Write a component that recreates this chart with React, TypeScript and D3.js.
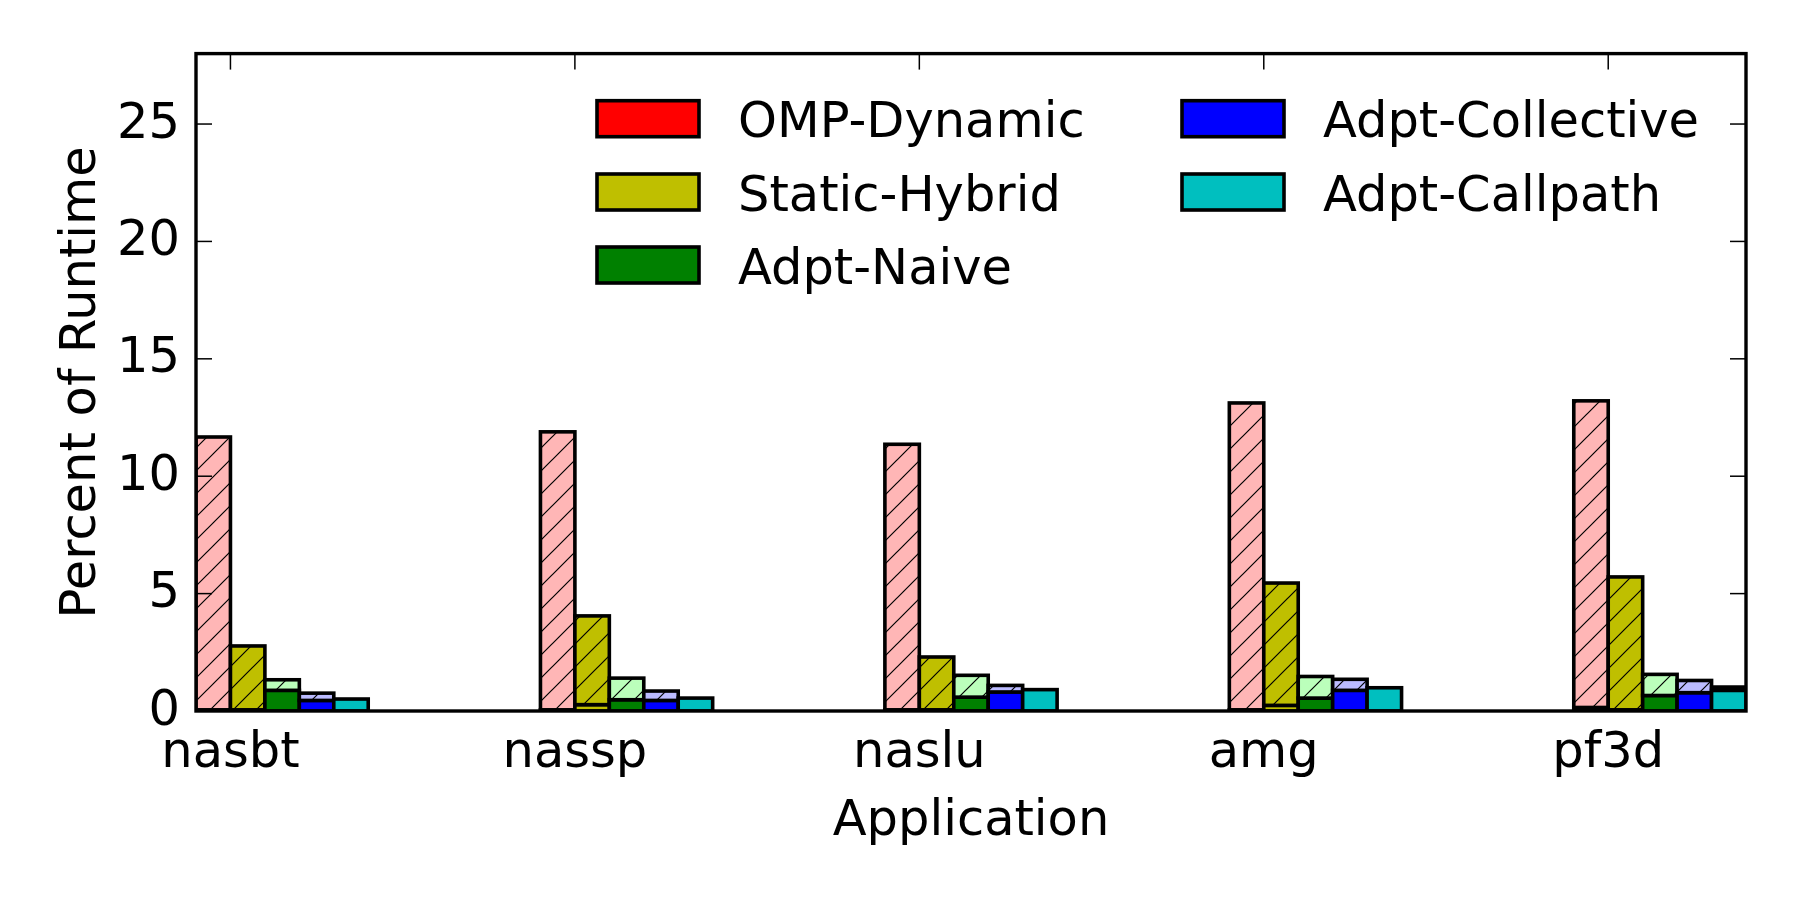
import React from 'react';
import * as d3 from 'd3';

const apps = ['nasbt', 'nassp', 'naslu', 'amg', 'pf3d'];
const methods = ['OMP-Dynamic', 'Static-Hybrid', 'Adpt-Naive', 'Adpt-Collective', 'Adpt-Callpath'];
const solidColors = ['#ff0000', '#bfbf00', '#008000', '#0000ff', '#00bfbf'];
const hatchColors = ['#ffb6b6', '#bfbf00', '#bbffbb', '#bbbbff', '#bbffff'];

// solid (lower) part and total height of each bar, per method, per app
const ompBase = [0.05, 0.05, 0.05, 0.05, 0.15];
const ompTotal = [11.67, 11.89, 11.36, 13.12, 13.21];
const staticBase = [0.05, 0.27, 0.05, 0.24, 0.05];
const staticTotal = [2.77, 4.05, 2.30, 5.45, 5.71];
const naiveBase = [0.88, 0.48, 0.59, 0.55, 0.66];
const naiveTotal = [1.33, 1.40, 1.52, 1.47, 1.56];
const collBase = [0.45, 0.45, 0.81, 0.88, 0.78];
const collTotal = [0.76, 0.85, 1.09, 1.35, 1.30];
const callBase = [0.51, 0.55, 0.91, 0.99, 0.88];
const callTotal = [0.51, 0.55, 0.91, 0.99, 1.02];

const bases = [ompBase, staticBase, naiveBase, collBase, callBase];
const totals = [ompTotal, staticTotal, naiveTotal, collTotal, callTotal];

const yTicks = [0, 5, 10, 15, 20, 25];
const barWidth = 0.1;

const W = 1800;
const H = 900;
const left = 196;
const right = 1746;
const top = 53.6;
const bottom = 711;
const FONT = '"DejaVu Sans", sans-serif';
const FS = 49.5;
const EDGE = 3.6;

export default function App() {
  const x = d3.scaleLinear().domain([0, 4.5]).range([left, right]);
  const y = d3.scaleLinear().domain([0, 28]).range([bottom, top]);
  const bw = x(barWidth) - x(0);

  const bars: JSX.Element[] = [];
  methods.forEach((m, j) => {
    apps.forEach((a, i) => {
      const x0 = x(i + j * barWidth);
      const b = bases[j][i];
      const t = totals[j][i];
      bars.push(
        <rect key={`s-${j}-${i}`} x={x0} y={y(b)} width={bw} height={y(0) - y(b)}
          fill={solidColors[j]} stroke="#000" strokeWidth={EDGE} />
      );
      if (t > b) {
        bars.push(
          <g key={`h-${j}-${i}`}>
            <rect x={x0} y={y(t)} width={bw} height={y(b) - y(t)} fill={hatchColors[j]} />
            <rect x={x0} y={y(t)} width={bw} height={y(b) - y(t)} fill="url(#hatch)" />
            <rect x={x0} y={y(t)} width={bw} height={y(b) - y(t)} fill="none" stroke="#000" strokeWidth={EDGE} />
          </g>
        );
      }
    });
  });

  const legendColX = [597, 1182];
  const legendTextX = [738, 1323];
  const legendRowY = [100.7, 174, 247];

  return (
    <svg width={W} height={H} style={{ position: 'absolute', left: 0, top: 0, background: '#fff' }}
      fontFamily={FONT}>
      <defs>
        <pattern id="hatch" patternUnits="userSpaceOnUse" width={23} height={23}>
          <path d="M0,23 L23,0 M-6,6 L6,-6 M17,29 L29,17" stroke="#000" strokeWidth={1.2} />
        </pattern>
        <clipPath id="axclip">
          <rect x={left} y={top} width={right - left} height={bottom - top} />
        </clipPath>
      </defs>
      <rect x={0} y={0} width={W} height={H} fill="#fff" />
      <g clipPath="url(#axclip)">{bars}</g>

      {yTicks.map((t) => (
        <g key={`yt-${t}`}>
          <line x1={left} x2={left + 16} y1={y(t)} y2={y(t)} stroke="#000" strokeWidth={1.5} />
          <line x1={right} x2={right - 16} y1={y(t)} y2={y(t)} stroke="#000" strokeWidth={1.5} />
          <text x={left - 16} y={y(t) + 13.5} textAnchor="end" fontSize={FS}>{t}</text>
        </g>
      ))}
      {apps.map((a, i) => (
        <g key={`xt-${a}`}>
          <line x1={x(i + barWidth)} x2={x(i + barWidth)} y1={top} y2={top + 16} stroke="#000" strokeWidth={1.5} />
          <line x1={x(i + barWidth)} x2={x(i + barWidth)} y1={bottom} y2={bottom - 16} stroke="#000" strokeWidth={1.5} />
          <text x={x(i + barWidth)} y={767} textAnchor="middle" fontSize={FS}>{a}</text>
        </g>
      ))}

      <rect x={left} y={top} width={right - left} height={bottom - top} fill="none" stroke="#000" strokeWidth={3.4} />

      <text x={(left + right) / 2} y={835} textAnchor="middle" fontSize={FS}>Application</text>
      <text transform={`translate(95, ${(top + bottom) / 2}) rotate(-90)`} textAnchor="middle" fontSize={FS}>
        Percent of Runtime
      </text>

      {methods.map((m, k) => {
        const col = k < 3 ? 0 : 1;
        const row = k < 3 ? k : k - 3;
        return (
          <g key={`lg-${m}`}>
            <rect x={legendColX[col]} y={legendRowY[row]} width={102} height={36}
              fill={solidColors[k]} stroke="#000" strokeWidth={EDGE} />
            <text x={legendTextX[col]} y={legendRowY[row] + 36.5} fontSize={FS}>{m}</text>
          </g>
        );
      })}
    </svg>
  );
}
